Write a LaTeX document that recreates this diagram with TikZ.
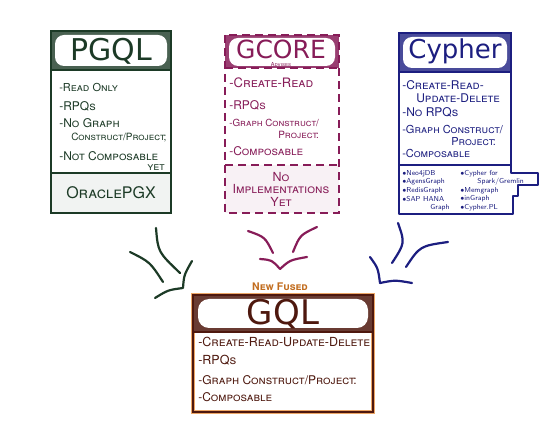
\documentclass[tikz,border=0pt]{standalone}
\usepackage{fontspec}
\usepackage{tikz}
\usetikzlibrary{calc}

\newfontfamily\handfont{TeX Gyre Heros}
\newfontfamily\titlefont{DejaVu Sans}

\definecolor{pgqlgreen}{RGB}{28,58,38}
\definecolor{gcorepink}{RGB}{135,28,88}
\definecolor{cypherblue}{RGB}{28,30,128}
\definecolor{gqlbrown}{RGB}{78,24,14}
\definecolor{fusedorange}{RGB}{228,128,36}

\tikzset{
  item/.style={anchor=west,inner sep=0pt,font=\handfont\scshape\fontsize{#1}{#1}\selectfont},
  item/.default=12,
  lib/.style={anchor=west,inner sep=0pt,font=\sffamily\fontsize{7.2}{7.2}\selectfont},
  title/.style={inner sep=0pt,font=\titlefont\fontsize{#1}{#1}\selectfont},
  title/.default=26,
  stroke/.style={line width=2.2pt,line cap=round,line join=round},
}

\begin{document}
\begin{tikzpicture}[x=1pt,y=-1pt,semithick]
  \useasboundingbox[fill=white] (0,0) rectangle (547,438);

  % PGQL
  \begin{scope}[pgqlgreen]
    \fill[pgqlgreen!6] (51,173) rectangle (171,213);
    \draw[line width=1.4pt,fill=pgqlgreen!80] (51,31) rectangle (171,70);
    \fill[white,rounded corners=9pt] (55,35) rectangle (167,66);
    \draw[line width=1.4pt] (51,70) rectangle (171,213);
    \draw[line width=1.2pt] (51,173) -- (171,173);
    \node[title=30] (pgql) at (111,51) {PGQL};
    \node[item=11] (p1) at (59,87) {-Read Only};
    \node[item] (p2) at (59,106) {-RPQs};
    \node[item] (p3) at (59,123) {-No Graph};
    \node[item=10] (p4) at (71,138) {Construct/Project;};
    \node[item] (p5) at (59,156) {-Not Composable};
    \node[item=11,anchor=east] (p6) at (165,168) {yet};
    \node[item=16,anchor=center] (p7) at (111,193) {OraclePGX};
  \end{scope}

  % GCORE
  \begin{scope}[gcorepink]
    \fill[gcorepink!6] (225,165) rectangle (339,213);
    \fill[gcorepink!85] (225,35) rectangle (339,68);
    \fill[white,rounded corners=9pt] (229,38) rectangle (335,66);
    \draw[line width=1.6pt,dash pattern=on 8pt off 5pt] (225,35) rectangle (339,213);
    \draw[line width=1.4pt,dash pattern=on 8pt off 5pt] (225,68) -- (339,68);
    \draw[line width=1.4pt,dash pattern=on 8pt off 5pt] (225,165) -- (339,165);
    \node[title=25] (gcore) at (281,49) {GCORE};
    \node[item=5.5,anchor=center] (adv) at (281,65) {Advises};
    \node[item=13] (g1) at (229,83) {-Create-Read};
    \node[item] (g2) at (229,105) {-RPQs};
    \node[item=9.8] (g3) at (229,123) {-Graph Construct/};
    \node[item=10] (g4) at (278,135) {Project:};
    \node[item] (g5) at (229,151) {-Composable};
    \node[item=12.5,anchor=center] (g6) at (281,177) {No};
    \node[item=12.5,anchor=center] (g7) at (281,189) {Implementations};
    \node[item=12.5,anchor=center] (g8) at (281,202) {Yet};
  \end{scope}

  % Cypher
  \begin{scope}[cypherblue]
    \fill[cypherblue!80] (399,33) rectangle (511,72);
    \fill[white,rounded corners=9pt] (403,37) rectangle (507,68);
    \draw[line width=1.4pt] (399,33) rectangle (511,165);
    \draw[line width=1.4pt] (399,72) -- (511,72);
    \draw[line width=1.4pt,line join=round] (399,165) -- (511,165) -- (511,173) -- (538,173)
      -- (538,185) -- (518,185) -- (518,196) -- (513,196) -- (513,214) -- (399,214) -- cycle;
    \node[title] (cypher) at (455,51) {Cypher};
    \node[item] (c1) at (402,85) {-Create-Read-};
    \node[item] (c2) at (416,98) {Update-Delete};
    \node[item] (c3) at (402,112) {-No RPQs};
    \node[item=11] (c4) at (402,130) {-Graph Construct/};
    \node[item=11] (c5) at (451,142) {Project:};
    \node[item=11] (c6) at (402,153) {-Composable};
    \node[lib] (l1) at (402,173.5) {$\bullet$Neo4jDB};
    \node[lib] (l2) at (402,182) {$\bullet$AgensGraph};
    \node[lib] (l3) at (402,190.5) {$\bullet$RedisGraph};
    \node[lib] (l4) at (402,199) {$\bullet$SAP HANA};
    \node[lib] (l5) at (430,207.5) {Graph};
    \node[lib] (r1) at (460,173.5) {$\bullet$Cypher for};
    \node[lib] (r2) at (477,182) {Spark/Gremlin};
    \node[lib] (r3) at (460,190.5) {$\bullet$Memgraph};
    \node[lib] (r4) at (460,199) {$\bullet$inGraph};
    \node[lib] (r5) at (460,207.5) {$\bullet$Cypher.PL};
  \end{scope}

  % arrows
  \begin{scope}[stroke,pgqlgreen]
    \draw (130,252) .. controls (150,262) .. (163,282);
    \draw (156,228) .. controls (158,252) .. (180,273);
    \draw (155,298) .. controls (168,290) .. (183,288) .. controls (184,275) .. (192,261);
  \end{scope}
  \begin{scope}[stroke,gcorepink]
    \draw (248,231) .. controls (265,237) .. (273,253);
    \draw (317,227) .. controls (300,235) .. (293,252);
    \draw (260,259) .. controls (272,260) .. (280,269) .. controls (290,260) .. (307,257);
  \end{scope}
  \begin{scope}[stroke,cypherblue]
    \draw (398,223) .. controls (405,243) .. (392,263);
    \draw (448,242) .. controls (420,246) .. (406,267);
    \draw (370,257) .. controls (378,268) .. (380,283) .. controls (395,280) .. (412,283);
  \end{scope}

  % GQL
  \node[anchor=center,inner sep=0pt,text=fusedorange!85!black,
    font=\handfont\scshape\bfseries\fontsize{10.5}{10.5}\selectfont] (fused) at (280,287) {New Fused};
  \begin{scope}[gqlbrown]
    \draw[fusedorange!70,line width=4pt] (193,295) rectangle (373,412);
    \fill[gqlbrown!85,draw=fusedorange!80,line width=1pt] (193,295) rectangle (373,332);
    \fill[white,rounded corners=11pt] (198,299) rectangle (368,328);
    \draw[line width=1.5pt] (193,295) rectangle (373,412);
    \draw[line width=1.4pt] (193,332) -- (373,332);
    \node[title=34] (gql) at (283,314) {GQL};
    \node[item=12.5] (q1) at (198,342) {-Create-Read-Update-Delete};
    \node[item=12.5] (q2) at (198,360) {-RPQs};
    \node[item=12] (q3) at (198,380) {-Graph Construct/Project:};
    \node[item=12] (q4) at (198,397) {-Composable};
  \end{scope}
\end{tikzpicture}
\end{document}
